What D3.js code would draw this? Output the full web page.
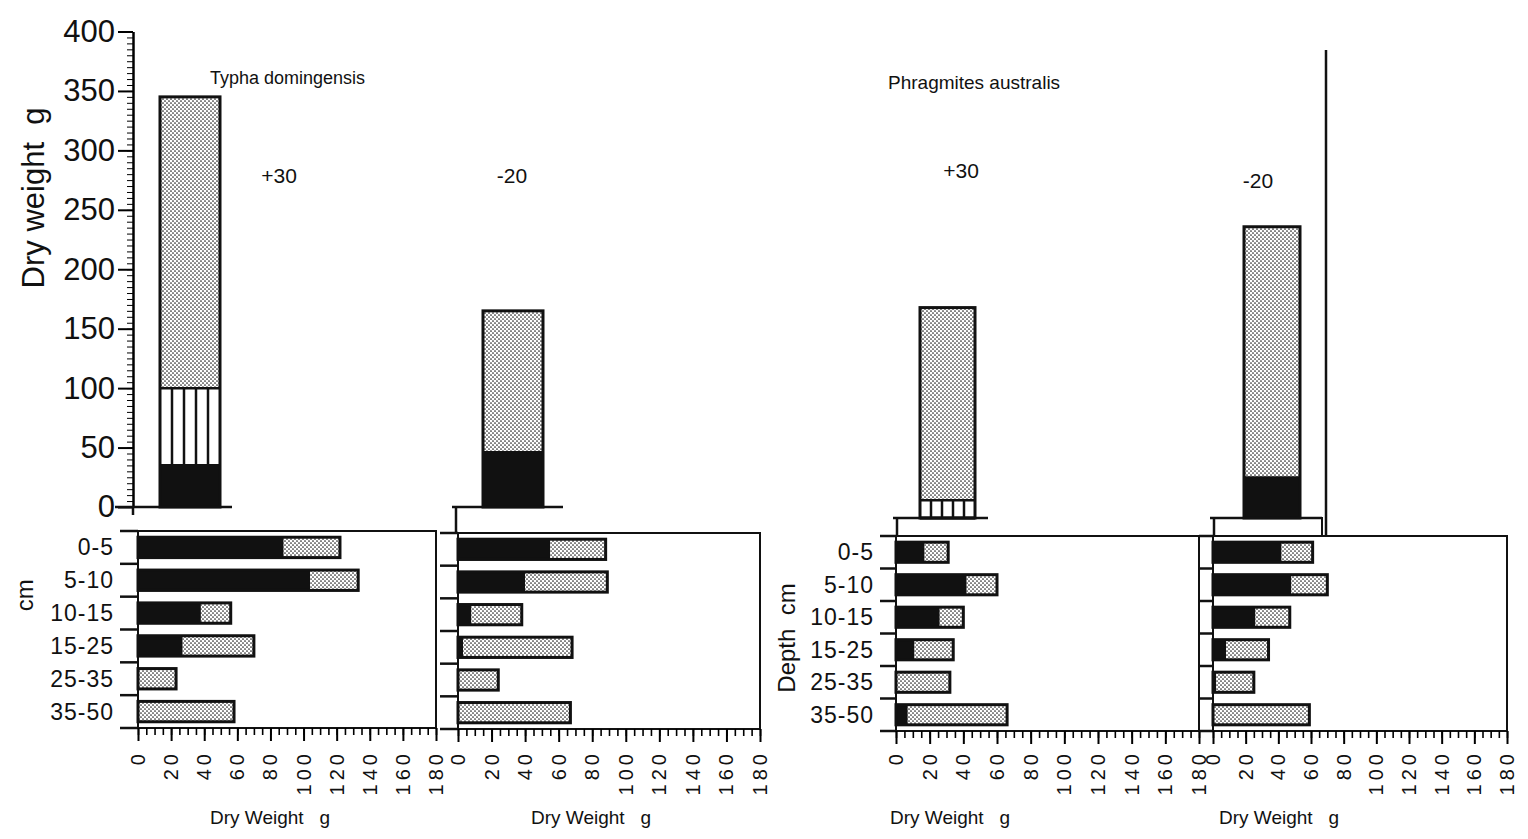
<!DOCTYPE html>
<html>
<head>
<meta charset="utf-8">
<script src="https://cdn.jsdelivr.net/npm/d3@7"></script>
<style>
  body { margin: 0; background: #fff; }
  text { font-family: "Liberation Sans", Arial, sans-serif; fill: #111; }
</style>
</head>
<body>
<div id="chart"></div>
<script>
// species and water level treatments
const species = ["Typha domingensis", "Phragmites australis"];
const treatments = ["+30", "-20", "+30", "-20"];
const depths = ["0-5", "5-10", "10-15", "15-25", "25-35", "35-50"];

// tick values
const totalTicks = [0, 50, 100, 150, 200, 250, 300, 350, 400];
const weightTicks = [0, 20, 40, 60, 80, 100, 120, 140, 160, 180];

// total dry weight per plant (g): black, striped and stippled parts
const topBlack = [35, 46, 0, 34];
const topStriped = [65, 0, 15, 0];
const topStippled = [245, 119, 162, 211];

// dry weight by depth (g): black part and stippled part
const depthBlack = [
  [88, 104, 38, 27, 0, 0],
  [55, 40, 8, 3, 0, 0],
  [17, 42, 26, 11, 0, 7],
  [42, 48, 26, 8, 2, 0]
];
const depthStippled = [
  [34, 29, 18, 43, 23, 58],
  [33, 49, 30, 65, 24, 67],
  [14, 18, 14, 23, 32, 59],
  [19, 22, 21, 26, 23, 59]
];

// layout of the four columns
const panels = [
  {x0: 138, x1: 436, top: 531, bottom: 728, base: 507, barX: 160, barW: 60, tickLeft: 120, baseFrom: 115, baseTo: 232, lx: 279, ly: 183, wx: 270},
  {x0: 458, x1: 760, top: 533, bottom: 729, base: 507, barX: 483, barW: 60, tickLeft: 440, baseFrom: 452, baseTo: 563, lx: 512, ly: 183, wx: 591},
  {x0: 896, x1: 1199, top: 536, bottom: 731, base: 518, barX: 920, barW: 55, tickLeft: 880, baseFrom: 893, baseTo: 988, lx: 961, ly: 178, wx: 950},
  {x0: 1213, x1: 1507, top: 536, bottom: 731, base: 518, barX: 1244, barW: 56, tickLeft: 1199, baseFrom: 1210, baseTo: 1322, lx: 1258, ly: 188, wx: 1279}
];

const svg = d3.select("#chart").append("svg")
    .attr("width", 1528)
    .attr("height", 839);

// stipple fill
const defs = svg.append("defs");
const pat = defs.append("pattern")
    .attr("id", "stipple")
    .attr("patternUnits", "userSpaceOnUse")
    .attr("width", 4)
    .attr("height", 4);
pat.append("rect").attr("width", 4).attr("height", 4).attr("fill", "#fff");
pat.append("circle").attr("cx", 1).attr("cy", 1).attr("r", 0.85).attr("fill", "#222");
pat.append("circle").attr("cx", 3).attr("cy", 3).attr("r", 0.85).attr("fill", "#222");

// the scan cuts the first depth title at the left edge
defs.append("clipPath").attr("id", "cutLabel")
    .append("rect").attr("x", 14).attr("y", 555).attr("width", 60).attr("height", 62);

// species titles
svg.append("text").attr("x", 210).attr("y", 84).style("font-size", "18px").text(species[0]);
svg.append("text").attr("x", 888).attr("y", 89).style("font-size", "19px").text(species[1]);

// y axis of the top chart (Typha)
const yTypha = d3.scaleLinear().domain([0, 400]).range([panels[0].base, panels[0].base - 475.5]);

svg.append("g")
    .attr("transform", "translate(133,0)")
    .call(d3.axisLeft(yTypha).tickValues(d3.range(0, 401, 5)).tickSize(6).tickFormat("").tickSizeOuter(0))
    .call(g => g.select(".domain").attr("stroke-width", 2.5));

svg.append("g")
    .attr("transform", "translate(133,0)")
    .call(d3.axisLeft(yTypha).tickValues(totalTicks).tickSize(15).tickPadding(3).tickSizeOuter(0))
    .call(g => g.select(".domain").remove())
    .call(g => g.selectAll("line").attr("stroke-width", 2))
    .call(g => g.selectAll("text").style("font-size", "31px").attr("fill", "#111"));

svg.append("line")
    .attr("x1", 133).attr("x2", 133)
    .attr("y1", yTypha(0)).attr("y2", yTypha(0) + 8)
    .attr("stroke", "#111").attr("stroke-width", 2.5);

svg.append("text")
    .attr("transform", "translate(44," + yTypha(260) + ") rotate(-90)")
    .attr("text-anchor", "middle")
    .style("font-size", "31px")
    .style("white-space", "pre")
    .text("Dry weight  g");

panels.forEach(function(p, i) {
    const yTop = d3.scaleLinear().domain([0, 400]).range([p.base, p.base - 475.5]);
    const g = svg.append("g");

    // base line under the bar
    g.append("line")
        .attr("x1", p.baseFrom).attr("x2", p.baseTo)
        .attr("y1", p.base).attr("y2", p.base)
        .attr("stroke", "#111").attr("stroke-width", 2.5);
    if (i > 0) {
        g.append("line")
            .attr("x1", p.baseFrom + 4).attr("x2", p.baseFrom + 4)
            .attr("y1", p.base).attr("y2", p.top)
            .attr("stroke", "#111").attr("stroke-width", 2.5);
    }

    // stacked total bar
    const b = topBlack[i], s = topStriped[i], st = topStippled[i];
    g.append("rect")
        .attr("x", p.barX).attr("width", p.barW)
        .attr("y", yTop(b)).attr("height", yTop(0) - yTop(b))
        .attr("fill", "#111");
    if (s > 0) {
        g.append("rect")
            .attr("x", p.barX).attr("width", p.barW)
            .attr("y", yTop(b + s)).attr("height", yTop(b) - yTop(b + s))
            .attr("fill", "#fff");
        d3.range(1, 5).forEach(function(k) {
            g.append("line")
                .attr("x1", p.barX + k * p.barW / 5).attr("x2", p.barX + k * p.barW / 5)
                .attr("y1", yTop(b + s)).attr("y2", yTop(b))
                .attr("stroke", "#111").attr("stroke-width", 2.5);
        });
        g.append("line")
            .attr("x1", p.barX).attr("x2", p.barX + p.barW)
            .attr("y1", yTop(b)).attr("y2", yTop(b))
            .attr("stroke", "#111").attr("stroke-width", 3);
    }
    g.append("rect")
        .attr("x", p.barX).attr("width", p.barW)
        .attr("y", yTop(b + s + st)).attr("height", yTop(b + s) - yTop(b + s + st))
        .attr("fill", "url(#stipple)");
    g.append("line")
        .attr("x1", p.barX).attr("x2", p.barX + p.barW)
        .attr("y1", yTop(b + s)).attr("y2", yTop(b + s))
        .attr("stroke", "#111").attr("stroke-width", 2.5);
    g.append("rect")
        .attr("x", p.barX).attr("width", p.barW)
        .attr("y", yTop(b + s + st)).attr("height", yTop(0) - yTop(b + s + st))
        .attr("fill", "none").attr("stroke", "#111").attr("stroke-width", 3);

    g.append("text")
        .attr("x", p.lx).attr("y", p.ly)
        .attr("text-anchor", "middle")
        .style("font-size", "21px")
        .text(treatments[i]);

    // depth profile panel
    const x = d3.scaleLinear().domain([0, 180]).range([p.x0, p.x1]);
    const y = d3.scaleBand().domain(depths).range([p.top, p.bottom]).paddingInner(0.38).paddingOuter(0.19);

    g.append("rect")
        .attr("x", p.x0).attr("y", p.top)
        .attr("width", p.x1 - p.x0).attr("height", p.bottom - p.top)
        .attr("fill", "none").attr("stroke", "#111").attr("stroke-width", 2);

    // row ticks on the left
    d3.range(depths.length + 1).forEach(function(k) {
        const yy = p.top + k * y.step();
        g.append("line")
            .attr("x1", p.tickLeft).attr("x2", p.x0)
            .attr("y1", yy).attr("y2", yy)
            .attr("stroke", "#111").attr("stroke-width", 2.5);
    });

    const blk = depthBlack[i], stp = depthStippled[i];
    depths.forEach(function(d, j) {
        g.append("rect")
            .attr("x", x(0)).attr("y", y(d))
            .attr("width", x(blk[j]) - x(0)).attr("height", y.bandwidth())
            .attr("fill", "#111");
        g.append("rect")
            .attr("x", x(blk[j])).attr("y", y(d))
            .attr("width", x(blk[j] + stp[j]) - x(blk[j])).attr("height", y.bandwidth())
            .attr("fill", "url(#stipple)");
        g.append("rect")
            .attr("x", x(0)).attr("y", y(d))
            .attr("width", x(blk[j] + stp[j]) - x(0)).attr("height", y.bandwidth())
            .attr("fill", "none").attr("stroke", "#111").attr("stroke-width", 3);
    });

    // category labels (first panel of each species)
    if (i === 0 || i === 2) {
        g.selectAll(".cat").data(depths).enter().append("text")
            .attr("x", p.tickLeft - 6)
            .attr("y", d => y(d) + y.bandwidth() / 2 + 8)
            .attr("text-anchor", "end")
            .style("font-size", "23px")
            .style("letter-spacing", "1px")
            .text(d => d);
    }

    // x axis
    g.append("g")
        .attr("transform", "translate(0," + p.bottom + ")")
        .call(d3.axisBottom(x).tickValues(d3.range(0, 181, 5)).tickSize(7).tickFormat("").tickSizeOuter(0))
        .call(a => a.select(".domain").remove())
        .call(a => a.selectAll("line").attr("stroke-width", 1.6));
    g.append("g")
        .attr("transform", "translate(0," + p.bottom + ")")
        .call(d3.axisBottom(x).tickValues(weightTicks).tickSize(13).tickFormat("").tickSizeOuter(0))
        .call(a => a.select(".domain").remove())
        .call(a => a.selectAll("line").attr("stroke-width", 2));

    g.selectAll(".wt").data(weightTicks).enter().append("text")
        .attr("transform", v => "translate(" + (x(v) + 7) + ",750) rotate(-90)")
        .attr("text-anchor", "end")
        .style("font-size", "20px")
        .style("letter-spacing", "4px")
        .text(v => v);

    g.append("text")
        .attr("x", p.wx)
        .attr("y", 824)
        .attr("text-anchor", "middle")
        .style("font-size", "19px")
        .style("white-space", "pre")
        .text("Dry Weight   g");
});

// depth titles
svg.append("text")
    .attr("transform", "translate(795,638) rotate(-90)")
    .attr("text-anchor", "middle")
    .style("font-size", "24px")
    .style("white-space", "pre")
    .text("Depth  cm");
svg.append("g")
    .attr("clip-path", "url(#cutLabel)")
    .append("text")
    .attr("transform", "translate(33,634) rotate(-90)")
    .attr("text-anchor", "middle")
    .style("font-size", "24px")
    .style("white-space", "pre")
    .text("Depth  cm");

// box under the last bar and the right border line
svg.append("rect")
    .attr("x", panels[3].baseFrom + 4).attr("y", panels[3].base)
    .attr("width", panels[3].baseTo - panels[3].baseFrom - 4).attr("height", panels[3].top - panels[3].base)
    .attr("fill", "none").attr("stroke", "#111").attr("stroke-width", 2);
svg.append("line")
    .attr("x1", 1326).attr("x2", 1326)
    .attr("y1", 50).attr("y2", panels[3].top)
    .attr("stroke", "#111").attr("stroke-width", 2.5);
</script>
</body>
</html>
